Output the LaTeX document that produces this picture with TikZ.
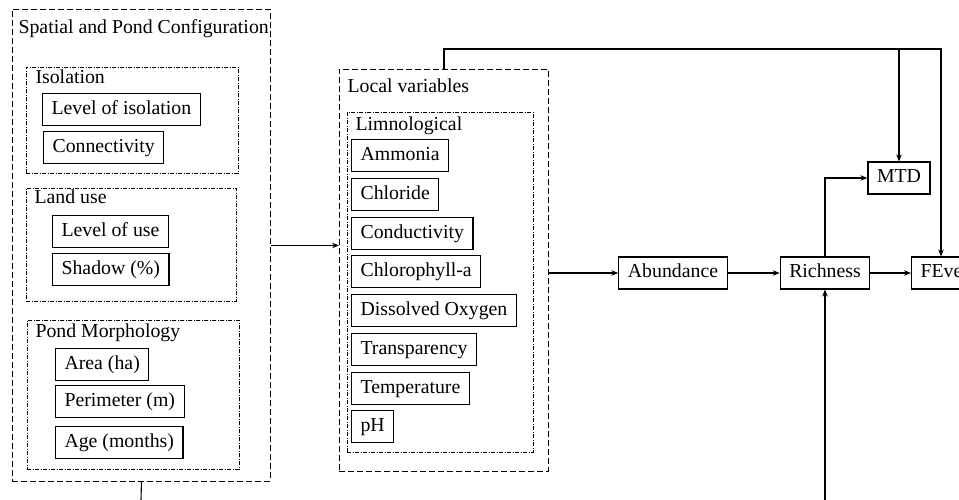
\documentclass[tikz,border=0pt]{standalone}
\usepackage{fontspec}
\setmainfont{Liberation Serif}
\usetikzlibrary{arrows.meta}

\begin{document}
\begin{tikzpicture}[x=1pt, y=-1pt,
		font=\fontsize{19.8}{22}\selectfont,
		line width=1.1pt,
		>={Stealth[length=7pt,width=5.5pt]},
		var/.style={draw, rectangle, inner xsep=9pt, inner ysep=0pt, minimum height=32pt, text height=13.5pt, text depth=4.5pt},
		outergroup/.style={draw, rectangle, line width=0.9pt, dash pattern=on 6pt off 3pt, inner sep=0pt},
		innergroup/.style={draw, rectangle, line width=0.9pt, dash pattern=on 4pt off 1.5pt on 1pt off 1.5pt, inner sep=0pt},
		grouptitle/.style={anchor=base west, inner sep=0pt}]
		\clip (0,0) rectangle (959,500);
		
		% containers
		\node[outergroup, anchor=north west, minimum width=258pt, minimum height=472pt] (spc) at (12, 9) {};
		\node[innergroup, anchor=north west, minimum width=212pt, minimum height=106pt] (iso) at (26, 67) {};
		\node[innergroup, anchor=north west, minimum width=210pt, minimum height=113pt] (land) at (26, 188) {};
		\node[innergroup, anchor=north west, minimum width=212pt, minimum height=149pt] (morph) at (27, 320) {};
		
		\node[outergroup, anchor=north west, minimum width=209pt, minimum height=402pt] (loc) at (339, 69) {};
		\node[innergroup, anchor=north west, minimum width=186pt, minimum height=340pt] (limno) at (347, 112) {};
		
		\node[grouptitle] (spc-t)   at (18, 34)  {Spatial and Pond Configuration};
		\node[grouptitle] (iso-t)   at (35, 84)  {Isolation};
		\node[grouptitle] (land-t)  at (34, 204) {Land use};
		\node[grouptitle] (morph-t) at (35, 337) {Pond Morphology};
		\node[grouptitle] (loc-t)   at (347, 93) {Local variables};
		\node[grouptitle] (limno-t) at (355, 131) {Limnological};
		
		% variables
		\begin{scope}[every node/.style={var, anchor=north west}]
		\node (iso-1) at (42, 93)   {Level of isolation};
		\node (iso-2) at (43, 131)  {Connectivity};
		
		\node (land-1) at (52, 215) {Level of use};
		\node (land-2) at (52, 253) {Shadow (\%)};
		
		\node (morph-1) at (55, 348) {Area (ha)};
		\node (morph-2) at (55, 385) {Perimeter (m)};
		\node (morph-3) at (55, 426) {Age (months)};
		
		\node (limno-1) at (351, 139) {Ammonia};
		\node (limno-2) at (351, 178) {Chloride};
		\node (limno-3) at (351, 217) {Conductivity};
		\node (limno-4) at (351, 255) {Chlorophyll-a};
		\node (limno-5) at (351, 294) {Dissolved Oxygen};
		\node (limno-6) at (351, 333) {Transparency};
		\node (limno-7) at (351, 372) {Temperature};
		\node (limno-8) at (351, 410) {pH};
		\end{scope}
		
		% responses
		\begin{scope}[every node/.style={var}]
		\node (abd)  at (673, 273) {Abundance};
		\node (rich) at (825, 273) {Richness};
		\node (mtd)  at (899, 178) {MTD};
		\node[anchor=west, text width=80pt, align=left] (fev) at (911, 273) {FEve};
		\end{scope}
		
		\coordinate (top-r)  at (941, 49);
		\coordinate (spc-out) at (141, 500);
		\coordinate (rich-in) at (825, 500);
		
		\draw[->] (spc.east) -- (spc.east -| loc.west);
		\draw[->] (loc.east |- abd) -- (abd.west);
		\draw[->] (abd.east) -- (rich.west);
		\draw[->] (rich.east) -- (fev.west);
		\draw[->] (rich.north) |- (mtd.west);
		
		\draw[->] (loc.north) |- (top-r) -- (top-r |- fev.north);
		\draw[->] (mtd.north |- top-r) -- (mtd.north);
		
		\draw (spc.south) -- (spc-out);
		\draw[->] (rich-in) -- (rich.south);
		
		\end{tikzpicture}
\end{document}
